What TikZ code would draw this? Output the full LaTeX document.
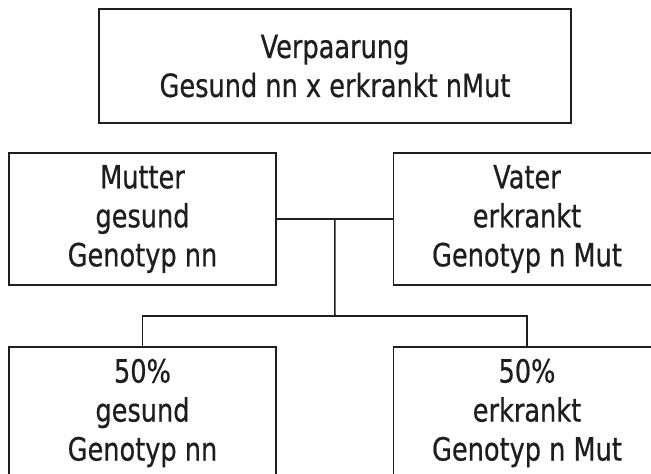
\documentclass[tikz,border=0pt]{standalone}
\usepackage{fontspec}
\setmainfont{DejaVu Sans}[FakeStretch=0.8, FakeBold=0.6]
\usetikzlibrary{calc}
\definecolor{BLACK}{HTML}{1E1E1E}

\begin{document}
\begin{tikzpicture}[x=1pt, y=-1pt,
    box/.style={draw=BLACK, line width=1.5pt, rectangle, align=center, inner sep=0pt,
        font=\fontsize{32}{39}\selectfont, text=BLACK},
    wide/.style={box, minimum width=472pt, minimum height=114pt},
    small/.style={box, minimum width=267pt, minimum height=132pt}]
    \useasboundingbox (0,0) rectangle (651,474);
    \clip (0,0) rectangle (651,474);
    \node[wide] (paarung) at (335,66) {Verpaarung\\Gesund nn x erkrankt nMut};
    \node[small] (mutter) at (142.5,219) {Mutter\\gesund\\Genotyp nn};
    \node[small] (vater) at (527,219) {Vater\\erkrankt\\Genotyp n Mut};
    \node[small] (kindA) at (142.5,413) {50\%\\gesund\\Genotyp nn};
    \node[small] (kindB) at (527,413) {50\%\\erkrankt\\Genotyp n Mut};
    \coordinate (mitte) at ($(mutter.east)!0.5!(vater.west)$);
    \coordinate (gabel) at (335,316);
    \draw[BLACK, line width=1.5pt] (mutter.east) -- (vater.west);
    \draw[BLACK, line width=1.5pt] (mitte) -- (gabel);
    \draw[BLACK, line width=1.5pt] (kindA.north) |- (gabel) -| (kindB.north);
\end{tikzpicture}
\end{document}
